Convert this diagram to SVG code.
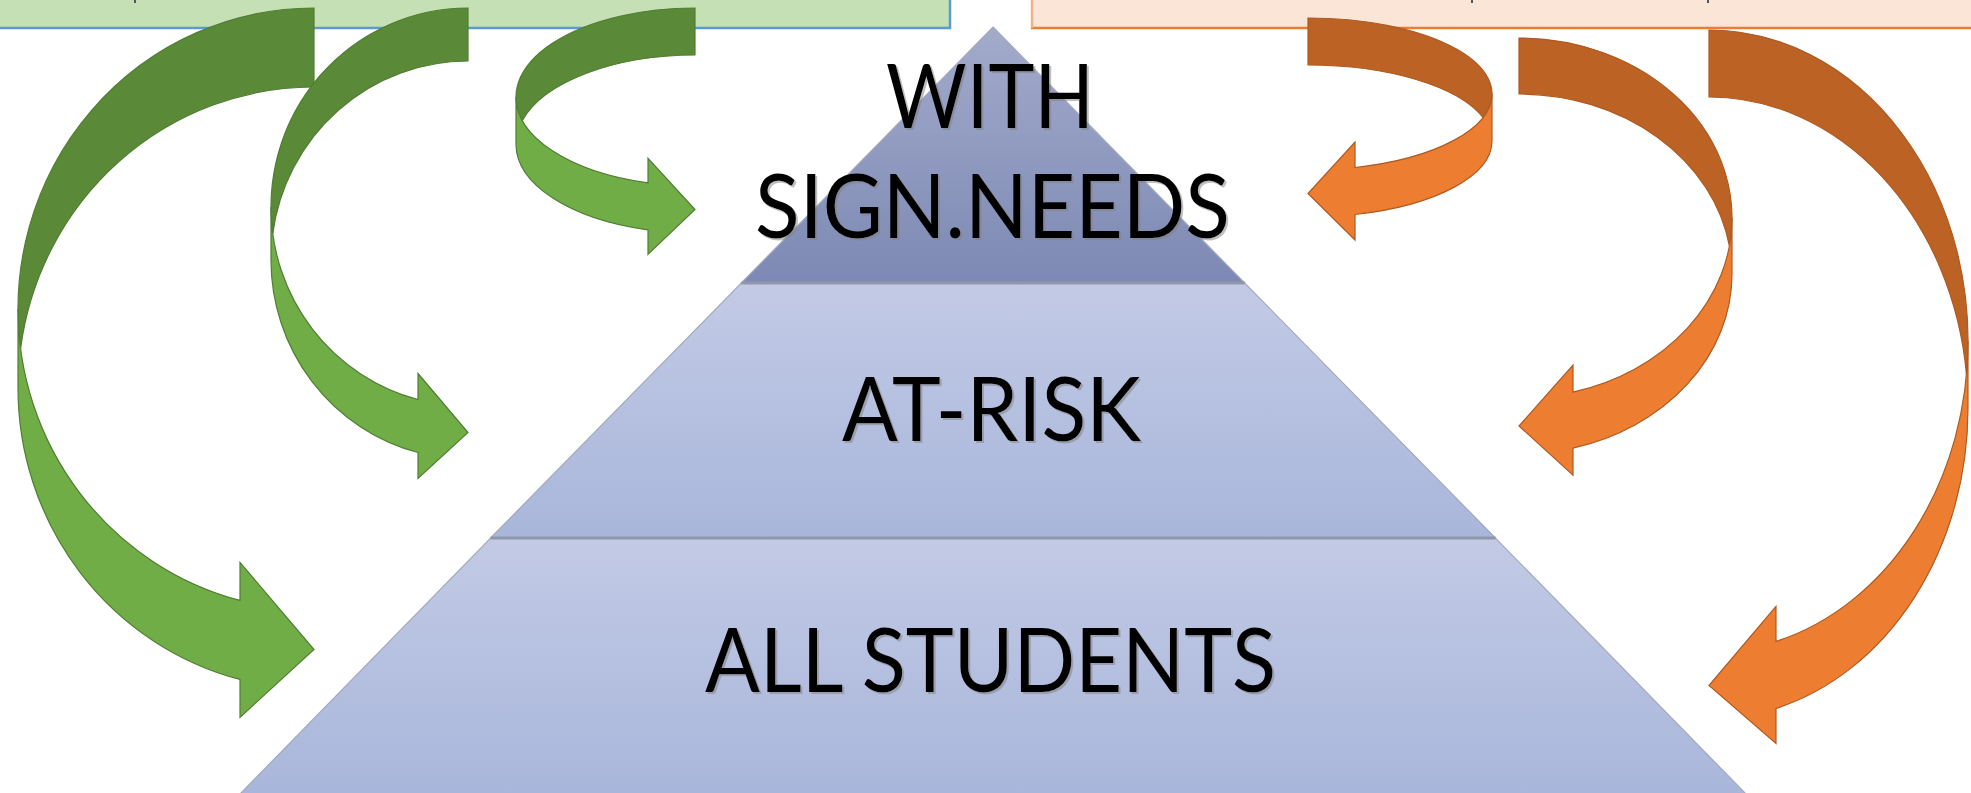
<svg xmlns="http://www.w3.org/2000/svg" width="1971" height="793" viewBox="0 0 1971 793">
<defs>
<linearGradient id="gTop" x1="0" y1="0" x2="0" y2="1"><stop offset="0" stop-color="#A3ABCB"/><stop offset="1" stop-color="#7D89B4"/></linearGradient>
<linearGradient id="gTier" x1="0" y1="0" x2="0" y2="1"><stop offset="0" stop-color="#C2CAE5"/><stop offset="1" stop-color="#A9B6DB"/></linearGradient>
<filter id="ts" x="-5%" y="-20%" width="110%" height="140%">
<feOffset in="SourceAlpha" dx="2" dy="2" result="o"/>
<feFlood flood-color="#7F7F7F" flood-opacity="0.5"/>
<feComposite in2="o" operator="in" result="s"/>
<feMerge><feMergeNode in="s"/><feMergeNode in="SourceGraphic"/></feMerge>
</filter>
<style>
.lbl{font-family:Lato,"Open Sans","Liberation Sans",sans-serif;font-size:89px;fill:#000;text-anchor:middle;filter:url(#ts)}
.gb{fill:#5A8A37;stroke:#507E32;stroke-width:1.2}
.gf{fill:#70AD47;stroke:#507E32;stroke-width:1.2}
.ob{fill:#BC6224;stroke:#AE5A21;stroke-width:1.2}
.of{fill:#ED7D31;stroke:#AE5A21;stroke-width:1.2}
.tier{stroke:#A3A9BC;stroke-width:1.2}
.sep{stroke:#9097AB;stroke-width:3}
.tick{fill:#555}
</style>
</defs>
<rect width="1971" height="793" fill="#FFFFFF"/>
<g id="box-green">
<rect x="-5" y="-5" width="955" height="33" fill="#C5E0B4" stroke="#5B9BD5" stroke-width="2.5"/>
<rect class="tick" x="134" y="0" width="2" height="3"/>
</g>
<g id="box-orange">
<rect x="1031" y="-5" width="960" height="33" fill="#FBE5D6"/>
<line x1="1031" y1="28" x2="1971" y2="28" stroke="#ED7D31" stroke-width="2.5"/>
<line x1="1032" y1="-5" x2="1032" y2="28" stroke="#F4B183" stroke-width="2.5"/>
<rect class="tick" x="1471" y="0" width="2" height="3"/>
<rect class="tick" x="1707" y="0" width="2" height="3"/>
</g>
<g id="tier-all">
<polygon class="tier" points="490.6,538 1495.4,538 1747,795 239,795" fill="url(#gTier)"/>
</g>
<g id="tier-atrisk">
<polygon class="tier" points="741.3,283 1244.7,283 1495.4,538 490.6,538" fill="url(#gTier)"/>
</g>
<g id="tier-sign">
<polygon class="tier" points="993,27 1244.7,283 741.3,283" fill="url(#gTop)"/>
</g>
<g id="separators">
<line class="sep" x1="741.3" y1="283" x2="1244.7" y2="283"/>
<line class="sep" x1="490.6" y1="538" x2="1495.4" y2="538"/>
</g>
<g id="labels">
<text class="lbl" x="990" y="128" textLength="208" lengthAdjust="spacingAndGlyphs">WITH</text>
<text class="lbl" x="992.5" y="238" textLength="475" lengthAdjust="spacingAndGlyphs">SIGN.NEEDS</text>
<text class="lbl" x="991.5" y="441" textLength="299" lengthAdjust="spacingAndGlyphs">AT-RISK</text>
<text class="lbl" x="990.5" y="692" textLength="571" lengthAdjust="spacingAndGlyphs">ALL STUDENTS</text>
</g>
<g id="connectors">
<g id="arrow-g1">
<path class="gb" d="M314 87 A296 301 0 0 0 20.6 348.5 A296 301 0 0 1 314 8 Z"/>
<path class="gf" d="M18 309 A296 301 0 0 0 240 600.4 L240 562.4 L314 649.5 L240 717.4 L240 679.4 A296 301 0 0 1 18 388 Z"/>
</g>
<g id="arrow-g2">
<path class="gb" d="M468 61 A197 199 0 0 0 272.8 233.5 A197 199 0 0 1 468 8 Z"/>
<path class="gf" d="M271 207 A197 199 0 0 0 418 399.5 L418 373.5 L468 432.5 L418 478.5 L418 452.5 A197 199 0 0 1 271 260 Z"/>
</g>
<g id="arrow-g3">
<path class="gb" d="M695 55 A179 89 0 0 0 522.4 120.5 A179 89 0 0 1 695 8 Z"/>
<path class="gf" d="M516 97 A179 89 0 0 0 648 182.9 L648 158.4 L695 209.5 L648 254.4 L648 229.9 A179 89 0 0 1 516 144 Z"/>
</g>
<g id="arrow-o1">
<path class="ob" d="M1308 65 A184 76 0 0 1 1483 117.5 A184 76 0 0 0 1308 18 Z"/>
<path class="of" d="M1492 94 A184 76 0 0 1 1355 167.5 L1355 142 L1308 193.5 L1355 240 L1355 214.5 A184 76 0 0 0 1492 141 Z"/>
</g>
<g id="arrow-o2">
<path class="ob" d="M1519 94 A213 180 0 0 1 1729.4 246 A213 180 0 0 0 1519 38 Z"/>
<path class="of" d="M1732 218 A213 180 0 0 1 1573 392.1 L1573 365.1 L1519 426 L1573 475.1 L1573 448.1 A213 180 0 0 0 1732 274 Z"/>
</g>
<g id="arrow-o3">
<path class="ob" d="M1709 97 A259 311 0 0 1 1966.5 374.5 A259 311 0 0 0 1709 30 Z"/>
<path class="of" d="M1968 341 A259 311 0 0 1 1776 641.4 L1776 606.4 L1709 685.5 L1776 743.4 L1776 708.4 A259 311 0 0 0 1968 408 Z"/>
</g>
</g>
</svg>
